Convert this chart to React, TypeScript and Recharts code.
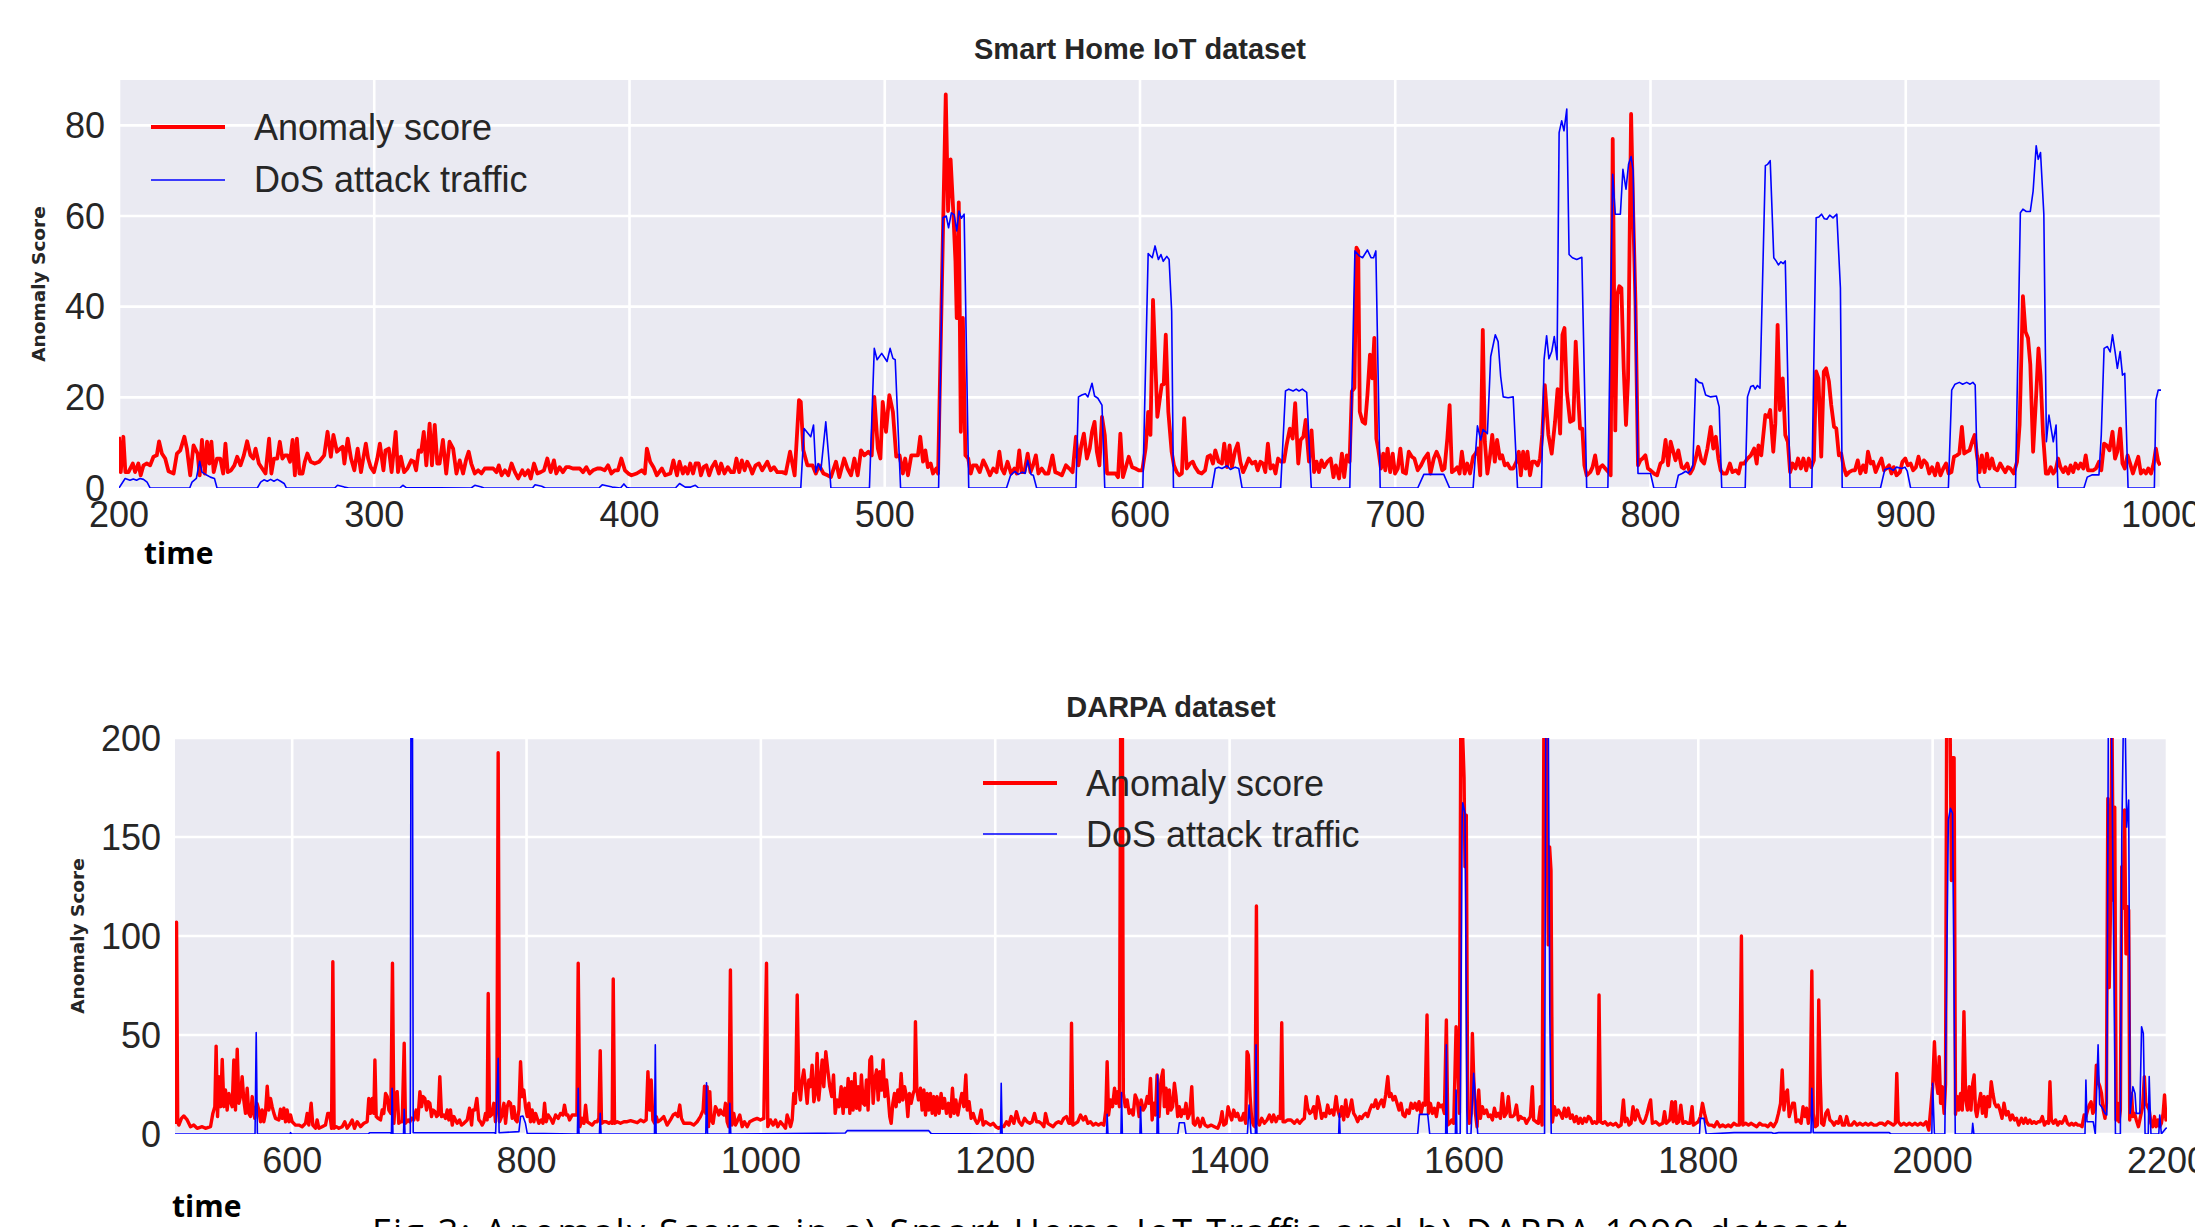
import React from 'react';
import { LineChart, Line, XAxis, YAxis, CartesianGrid } from 'recharts';

type P = [number, number];

// ---------- Smart Home IoT dataset ----------
const iotTicksX = [200, 300, 400, 500, 600, 700, 800, 900, 1000];
const iotTicksY = [0, 20, 40, 60, 80];

const iotAnomaly: P[] = [
  [200, 11.3], [200.7, 3.5], [201.7, 11.3], [202.5, 3.5], [203.7, 3.5], [205.4, 5.4], [206.3, 3.5], [207.6, 5.4], [208.5, 2.8], [209.6, 5.0],
  [210.9, 5.4], [212.2, 5.0], [213.5, 6.9], [214.8, 7.2], [215.7, 10.3], [216.8, 7.6], [218.1, 6.5], [219.4, 3.7], [221.4, 3.2], [222.7, 7.6],
  [224, 8.3], [225.6, 11.3], [226.6, 8.7], [227.9, 2.8], [229.2, 9.4], [230.8, 7.6], [231.6, 2.8], [232.5, 10.6], [233.6, 3.2], [234.5, 10.2],
  [235.4, 5.4], [236.2, 10.2], [237.1, 3.5], [238.4, 6.5], [239.7, 6.5], [240.8, 3.2], [241.7, 9.8], [242.6, 3.5], [243.9, 3.9], [245.2, 5.0],
  [246.3, 6.9], [247.6, 5.0], [248.9, 7.2], [250.2, 10.3], [251.5, 7.2], [252.6, 6.5], [253.5, 8.7], [254.8, 5.4], [256.1, 4.3], [257.4, 3.2],
  [258.8, 10.9], [259.7, 3.2], [260.7, 6.5], [262, 6.5], [263, 10.2], [264, 6.5], [265, 7.2], [266, 7.2], [267, 5.8], [268, 10.6],
  [268.9, 2.8], [269.7, 10.9], [270.7, 3.2], [271.9, 3.2], [272.8, 5.8], [273.8, 7.6], [275.1, 5.8], [276.7, 5.4], [278.4, 5.8], [280.4, 7.2],
  [281.7, 12.4], [283, 6.9], [284, 11.7], [285.4, 8.0], [286.7, 8.7], [287.6, 9.1], [288.3, 5.4], [289.6, 10.9], [290.9, 6.5], [292.2, 3.9],
  [293.5, 8.7], [294.8, 3.5], [295.7, 6.5], [296.7, 9.8], [297.6, 6.5], [298.6, 4.6], [299.9, 3.5], [301.2, 6.5], [302.2, 9.8], [303.6, 3.9],
  [304.4, 8.3], [305.7, 8.7], [306.8, 3.5], [308.4, 12.4], [309.3, 3.5], [310.4, 6.9], [311.7, 3.5], [313, 4.3], [314.5, 6.1], [315.5, 5.8],
  [316.4, 3.9], [317.4, 8.3], [318.4, 8.0], [319.4, 12.4], [320.4, 5.0], [321.7, 14.2], [322.6, 5.0], [323.7, 13.9], [324.7, 5.4], [325.6, 5.4],
  [326.9, 10.6], [328.2, 3.2], [329.5, 10.2], [330.9, 8.7], [332.2, 3.2], [333.5, 6.1], [334.8, 3.2], [336.1, 6.5], [337, 8.0], [338, 5.4],
  [339.4, 3.2], [340.7, 3.9], [342, 3.2], [343.3, 4.3], [345.3, 4.3], [346.6, 4.3], [347.9, 3.5], [348.8, 5.0], [349.9, 2.8], [351.2, 3.9],
  [352.5, 2.8], [353.8, 5.4], [355.1, 3.5], [356.4, 2.1], [358, 3.9], [359, 2.8], [360.3, 3.9], [361.3, 2.1], [362.6, 5.4], [363.9, 3.2],
  [365.2, 3.5], [366.5, 3.9], [367.8, 6.5], [369.1, 3.5], [370.4, 6.1], [371.3, 3.2], [372.6, 4.6], [373.9, 3.5], [375.2, 4.6], [376.5, 4.6],
  [377.8, 4.3], [379.1, 4.3], [380.5, 4.3], [381.8, 3.5], [383.1, 4.6], [384.4, 3.2], [385.7, 3.9], [387.4, 4.3], [388.7, 4.3], [390.3, 3.9],
  [391.6, 5.0], [392.9, 3.2], [394.2, 3.9], [395.5, 3.9], [396.8, 6.5], [398.2, 3.9], [399.5, 3.2], [400.8, 2.8],
  [402.8, 3.2], [404.8, 3.9], [406, 3.2], [406.8, 8.7], [408.1, 5.8], [409.4, 4.6], [410.7, 2.8], [412.7, 4.3], [414, 2.8], [416, 3.2],
  [417.2, 6.1], [418.6, 2.8], [419.6, 5.8], [420.9, 3.2], [421.8, 4.6], [422.8, 3.2], [423.8, 5.4], [424.9, 3.2], [425.9, 5.4], [427.1, 5.4],
  [428, 2.8], [429, 4.6], [430.1, 5.0], [431.2, 2.8], [432.3, 4.6], [433.6, 5.8], [435, 3.2], [435.9, 5.4], [437.2, 3.2], [438.5, 4.6],
  [439.8, 3.5], [440.9, 3.5], [441.9, 6.5], [443, 3.5], [444, 6.1], [445.1, 3.9], [446.1, 5.8], [447.2, 4.6], [448.1, 3.2], [449.4, 5.0],
  [450.7, 5.4], [452, 3.9], [454, 5.8], [455.3, 3.9], [456.6, 4.6], [457.9, 3.5], [459.9, 3.5], [461.2, 3.2], [462.9, 8.0], [464.7, 2.8],
  [466.4, 19.4], [467.1, 19.0], [468.1, 8.3], [469.7, 5.0], [471.7, 5.0], [473, 3.2], [474.3, 5.0], [476, 3.2], [477.6, 2.8], [478.9, 2.4],
  [480.9, 5.8], [482.2, 2.4], [484.1, 6.5], [485.4, 4.3], [486.8, 2.8], [488.1, 6.5], [489.4, 2.8], [490.7, 8.3], [492, 7.2], [493.6, 8.0],
  [494.9, 7.2], [495.9, 20.1], [497.3, 8.7], [498.3, 6.5], [499.2, 19.0], [500.5, 12.4], [501.8, 20.5], [503.2, 16.8], [504.5, 6.9], [505.8, 7.2],
  [507.1, 3.2], [508, 6.5], [509.1, 2.8], [510.4, 7.2], [511.7, 7.2], [513, 7.2], [513.9, 11.3], [515, 5.8], [515.9, 8.3], [516.9, 4.6],
  [518, 5.4], [518.9, 3.2], [520.2, 4.3], [520.9, 3.2], [523.9, 86.8], [524.8, 61.1], [525.8, 72.5], [526.8, 61.5], [527.7, 50], [528.2, 37.5],
  [529, 63], [529.8, 12.4], [530.6, 37.5], [531.6, 7.2], [532.7, 6.5], [533.7, 3.2], [534.6, 5.0], [535.9, 5.0], [537.2, 3.5], [538.6, 6.1],
  [539.9, 4.6], [541.2, 2.8], [542.5, 4.3], [543.8, 3.5], [544.9, 8.0], [545.8, 4.3], [546.8, 3.2], [548.1, 5.8], [549.5, 3.2], [550.8, 4.3],
  [551.7, 3.2], [552.7, 8.3], [553.6, 3.5], [554.7, 3.5], [556, 7.6], [557.1, 3.5], [558.1, 5.0], [559.2, 7.2], [560.2, 3.2], [561.5, 4.3],
  [562.8, 3.2], [564.1, 3.2], [565.7, 7.2], [566.8, 3.5], [568.1, 3.2], [569.4, 2.8], [571, 5.0], [572.3, 4.3], [573.6, 3.5], [574.9, 11.3],
  [575.9, 5.0], [577, 9.4], [578, 12.0], [579.2, 6.5], [580.3, 8.7], [581.2, 12.4], [582.2, 14.6], [583.1, 8.0], [584.1, 5.0], [585.1, 15.7],
  [586.2, 11.7], [587.1, 3.2], [588.4, 3.2], [590.4, 3.2], [591.4, 2.4], [592.3, 12.0], [593.3, 2.4], [594.3, 4.3], [595.6, 6.9], [596.9, 4.6],
  [598.2, 4.3], [599.5, 3.9], [600.9, 3.9], [602.2, 8.7], [603.2, 16.8], [604.1, 11.7], [605.1, 41.5],
  [606.8, 15.7], [608.5, 22.7], [609.3, 22.9], [610.1, 33.8], [611.1, 16.8], [612.4, 8.0], [613.3, 5.0], [614.4, 3.5], [615.4, 2.8], [616.4, 3.2],
  [617.3, 15.4], [618.3, 4.3], [619.6, 5.4], [620.7, 5.8], [621.6, 4.6], [622.9, 3.5], [624.2, 3.2], [625.5, 3.9], [626.5, 6.9], [627.5, 7.2],
  [628.6, 5.4], [629.5, 8.3], [630.8, 5.8], [632.1, 5.4], [633, 9.8], [634.1, 4.6], [635.1, 9.4], [636, 4.6], [637.3, 8.3], [638.3, 9.8],
  [639.3, 5.8], [640.4, 3.5], [641.3, 4.6], [642.6, 6.5], [643.9, 5.4], [645.2, 5.8], [646.1, 3.9], [647.2, 5.8], [648.2, 5.4], [649.1, 3.5],
  [650.1, 9.8], [651.1, 4.3], [652.2, 5.0], [653.1, 3.2], [654.1, 6.5], [655.3, 5.8], [656.4, 5.8], [657.4, 9.4], [658.7, 13.1], [659.8, 10.9],
  [660.8, 18.7], [662, 5.4], [662.9, 10.6], [664, 11.3], [664.9, 15.0], [666.2, 5.8], [667.2, 12.7], [668.2, 3.5], [669.2, 5.8], [670.1, 3.5],
  [671.1, 6.1], [672.1, 4.6], [673.4, 5.8], [674.7, 6.5], [675.8, 2.4], [676.7, 5.0], [678, 2.1], [679.1, 7.6], [680, 2.4], [681, 7.2],
  [682.1, 5.8], [683, 21.3], [684, 22.1], [684.8, 53], [685.5, 52.3], [686.1, 16.8], [687.2, 14.6], [688.2, 14.2], [689.1, 20.5], [690.1, 29.4],
  [691, 24.2], [691.8, 33.1], [692.6, 10.9], [693.3, 8.7], [694.4, 4.3], [695.3, 7.6], [696.1, 3.9], [697, 8.7], [698, 3.5], [699, 7.6],
  [699.9, 3.2], [701, 4.3], [702, 8.7], [703, 3.5], [704.2, 3.2], [705.3, 8.0], [706.5, 6.9], [707.5, 6.5], [708.8, 3.9], [710.1, 5.0],
  [711.4, 6.5], [712.8, 7.6], [713.8, 3.2], [715.1, 6.5], [716.2, 8.0], [717.3, 6.5], [718.4, 3.9], [719.3, 4.3], [720.4, 10.9], [721.3, 18.3],
  [722.2, 3.5], [723.2, 3.9], [724.3, 4.6], [725.2, 3.2], [726.1, 8.0], [727.2, 3.2], [728.2, 5.4], [729.3, 3.2], [730.5, 6.9], [731.5, 7.6],
  [732.4, 8.7], [733.3, 2.8], [734.3, 34.9], [735.1, 10.2], [736.1, 3.2], [737, 6.5], [738, 11.7], [739, 5.8], [739.9, 10.6], [741, 6.5],
  [741.9, 7.2], [742.9, 5.0], [744, 5.4], [745, 4.3], [746.2, 4.3], [747.5, 5.8], [748.4, 8.0], [749.2, 2.8], [750.1, 8.0], [751.1, 4.3],
  [751.8, 8.0], [752.8, 2.8], [753.7, 5.8], [754.7, 5.8], [755.8, 5.0], [756.7, 6.5], [757.6, 11.7], [758.6, 22.7], [760, 11.7], [761.3, 7.6],
  [762.6, 14.6], [763.6, 21.8], [764.6, 12], [765.5, 33.8], [766.3, 35.3], [767.2, 21.4], [768.5, 14.6], [769.8, 15.0], [770.7, 32.3], [771.8, 19.0],
  [772.4, 13.1], [773.3, 13.1], [774.1, 5.0], [775, 2.8], [776.4, 3.5], [777.3, 4.6], [778.3, 7.2], [779.4, 3.2], [780.3, 4.6], [781.2, 5.0],
  [782.3, 4.3], [783.6, 3.5], [784.4, 2.8], [785.2, 77], [786.2, 12.7], [787, 42.7], [787.8, 44.5], [788.6, 44.1], [789.5, 26.4], [790.4, 13.9],
  [791.2, 24.2], [792.4, 82.5], [793.2, 61.1], [794.1, 41.2], [795.1, 5.0], [796, 6.1], [796.9, 6.5], [798, 7.2], [799, 4.3], [800, 3.9],
  [801.3, 3.2], [802.6, 2.8], [803.9, 5.4], [804.8, 5.8], [805.9, 10.6], [806.9, 5.0], [807.9, 10.2],
  [809.8, 6.1], [810.9, 8.3], [812.2, 4.6], [813.1, 4.3], [814.4, 5.4], [815.5, 3.2], [816.6, 4.3], [817.7, 6.5], [818.7, 9.1], [819.9, 6.1],
  [821, 5.4], [822.3, 8.7], [823.6, 13.5], [824.6, 8.7], [825.6, 11.3], [826.6, 6.5], [827.5, 3.9], [828.4, 3.2], [829.8, 3.2], [831.1, 5.4],
  [832.1, 3.5], [833.4, 3.9], [834.5, 3.2], [835.4, 5.4], [836.7, 5.4], [838, 6.5], [839.3, 7.2], [840.6, 8.7], [841.6, 5.4], [842.3, 9.4],
  [843.4, 7.2], [845, 16.1], [846.1, 15.7], [846.9, 17.2], [848.1, 8.0], [848.9, 14.2], [849.8, 36], [850.7, 17.2], [851.8, 24.2], [852.8, 11.7],
  [853.8, 10.2], [854.7, 3.5], [855.7, 5.4], [856.8, 4.3], [857.8, 6.5], [858.9, 4.3], [859.9, 6.5], [861, 3.9], [862, 6.5], [863, 4.6],
  [864, 6.1], [864.9, 25.7], [865.8, 24.2], [866.9, 6.9], [867.9, 25.7], [868.8, 26.4], [869.9, 23.5], [870.8, 18.3], [871.9, 13.5], [872.8, 13.1],
  [873.8, 7.2], [874.7, 7.6], [875.7, 4.6], [876.7, 2.8], [877.8, 3.5], [879.1, 3.9], [880.1, 3.9], [881.2, 6.1], [882.2, 3.2], [883.3, 5.0],
  [884.3, 3.5], [885.2, 8.0], [886.3, 5.4], [887.2, 5.8], [888.2, 3.5], [889.3, 5.0], [890.5, 6.5], [891.5, 3.9], [892.4, 4.3], [893.5, 5.0],
  [894.4, 3.2], [895.3, 4.6], [896.4, 2.8], [897.7, 3.5], [898.7, 5.8], [899.8, 6.5], [900.8, 5.0], [901.9, 5.4], [902.9, 3.9], [904, 4.6],
  [905, 6.9], [906.1, 4.6], [907.1, 6.1], [908.2, 5.4], [909.2, 3.2], [910.3, 4.6], [911.5, 2.8], [912.5, 5.4], [913.6, 2.8], [914.7, 4.3],
  [915.8, 5.4], [916.8, 3.2], [917.9, 3.5], [918.9, 6.9], [920, 7.2], [921, 7.6], [922, 13.5], [922.9, 7.6], [923.9, 8.0], [925, 8.3],
  [926, 10.2], [927, 11.7], [927.9, 7.2], [928.9, 3.5], [929.8, 7.2], [930.9, 3.5], [931.8, 7.6], [932.8, 4.3], [933.8, 6.5], [934.8, 4.3],
  [935.9, 3.9], [937, 5.4], [938.1, 4.3], [939, 3.5], [940, 4.6], [941, 4.3], [942.3, 3.2], [943.6, 5.8], [944.6, 13.9], [945.9, 42.3],
  [946.9, 34.5], [947.9, 33.1], [948.8, 27.2], [949.9, 8.0], [950.9, 18.3], [952, 30.8], [952.8, 24.9], [953.8, 11.7], [954.9, 3.2], [955.8, 3.2],
  [956.8, 4.6], [957.8, 3.2], [958.7, 3.9], [959.7, 6.5], [960.6, 4.6], [961.7, 3.5], [962.6, 4.6], [963.7, 3.2], [964.6, 5.0], [965.6, 3.5],
  [966.5, 5.4], [967.6, 4.3], [968.5, 5.4], [969.6, 4.3], [970.5, 7.2], [971.4, 3.9], [972.5, 3.9], [973.5, 3.9], [974.5, 4.3], [975.7, 5.8],
  [976.6, 3.9], [977.7, 9.8], [978.7, 9.4], [979.8, 8.3], [981, 12.4], [982, 6.5], [982.9, 8.0], [984, 13.1], [984.9, 5.4], [985.8, 4.3],
  [986.9, 7.2], [987.9, 5.4], [989, 3.2], [990, 5.0], [991.1, 6.9], [992.1, 3.2], [993.2, 3.9], [994.1, 3.2], [995, 4.3], [996.1, 3.2],
  [997.1, 5.4], [998, 8.7], [998.9, 5.8], [999.7, 5.0],
];

const iotDos: P[] = [
  [200, 0], [202.4, 2.1], [204.3, 1.7], [205.6, 2.0], [206.9, 1.7], [208.2, 2.1], [209.6, 1.9], [211, 1.3], [212.2, 0], [227.7, 0],
  [228.6, 1.3], [230.3, 2.1], [231.6, 5.9], [232.5, 3.5], [234.5, 2.8], [235.8, 2.4], [237.4, 2.1], [238.4, 0], [254.2, 0], [255.5, 1.3],
  [256.8, 1.8], [258.1, 1.5], [259.4, 1.9], [260.7, 1.5], [262, 1.9], [263.3, 1.5], [264.7, 1.0], [265.6, 0], [284.5, 0], [285.6, 0.6],
  [288.3, 0.2], [290, 0], [310, 0], [311.2, 0.6], [312.5, 0.1], [338, 0], [339.4, 0.6], [342, 0.2], [343, 0], [362, 0],
  [363, 0.7], [365.6, 0.4], [367, 0], [388, 0], [389.3, 0.7], [393.2, 0.2], [396.5, 0], [397.8, 0.9], [399, 0.1], [400.2, 0],
  [418, 0], [419.6, 1.0], [421.8, 0.2], [424, 0.2], [425.8, 0.6], [427.1, 0], [467.1, 0], [468.4, 13.1], [471, 11.3], [472.1, 13.9],
  [473, 3.5], [473.9, 5.4], [475, 4.0], [476.9, 14.6], [478.2, 5.8], [478.9, 0], [494, 0], [495.9, 30.8], [497, 28.3], [498.8, 29.7],
  [500.9, 27.9], [502.1, 30.8], [503.2, 28.6], [504.1, 28.3], [506.2, 0], [521.1, 0], [522.8, 59.6], [524.1, 60], [525, 57.4], [526.1, 60.7],
  [527.2, 60.3], [528.2, 56.7], [529.1, 61.1], [530, 59.5], [531.1, 60.4], [532.9, 0], [547.7, 0], [549.3, 2.8], [551, 3.7], [552.3, 3.0],
  [553.9, 3.5], [555, 3.2], [556, 6.1], [557.3, 3.0], [558.2, 2.8], [559.5, 0], [574.9, 0], [575.9, 20.1], [577.2, 20.5], [578.6, 20.8],
  [579.6, 20.1], [581.2, 23.1], [582.2, 20.3], [583.5, 19.8], [585.1, 18.3], [586.2, 0], [601.1, 0], [603.2, 51.7], [604.8, 50.8], [605.9, 53.4],
  [607.2, 50.4], [608.2, 51.5], [609.1, 50], [610.5, 51.1], [611.4, 50.4], [612.4, 39], [613.1, 0], [628.2, 0], [629.5, 4.3], [630.8, 4.6],
  [632.1, 4.3], [634.1, 4.9], [635.4, 4.1], [637.3, 4.6], [638.7, 4.3], [640, 0], [655.1, 0], [657, 21.4], [658.3, 21.8], [660, 21.4],
  [661.2, 21.8], [662.3, 21.4], [663.6, 21.8], [665.3, 21.1], [667.1, 0], [682.2, 0], [684.2, 52.3], [685.9, 51.2], [687.2, 50.8], [689.1, 52.5],
  [690.5, 50.8], [691.5, 50.8], [692.4, 52.3], [694.1, 0], [708.8, 0], [711.2, 3.0], [713.4, 3.0], [719, 3.0], [721.3, 0], [730.5, 0],
  [732.2, 13.7], [733.5, 10.6], [734.4, 12.9], [736.1, 12.0], [737.4, 29], [739.2, 33.8], [740.3, 32.3], [741.3, 24.6], [742.3, 20.1], [744.2, 19.9],
  [746.2, 20.1], [747.9, 0], [757.3, 0], [758.3, 28.3], [759.3, 33.6], [760.2, 28.5], [761.3, 30.1], [762.3, 33.4], [763.4, 28.3], [764.2, 78.4],
  [765.2, 81], [766.1, 78.8], [767.2, 83.6], [768.1, 51.5], [769.4, 50.8], [771.1, 50.4], [773.1, 50.9], [775, 0], [783.3, 0], [785.2, 69.2],
  [786.2, 60.4], [788.2, 60.4], [789.2, 70.3], [790.4, 65.9], [791.4, 71.4], [792.4, 73.1], [793.2, 70], [795.1, 3.2], [800, 3.2], [801.3, 0],
  [809.8, 0], [810.9, 2.8], [812.4, 3.2], [813.8, 3.7], [814.8, 3.3], [815.7, 3.9], [816.6, 5.0], [817.7, 24.1], [819, 23.3], [820.3, 23.1],
  [821.6, 20.5], [823.6, 20.1], [825.8, 20.3], [826.9, 17.9], [827.9, 0], [837.1, 0], [838, 20.1], [839.3, 22.4], [840.3, 22.6], [841, 21.8],
  [841.9, 22.6], [842.9, 22.0], [843.9, 45.6], [845, 71.1], [845.9, 71.4], [846.9, 72.2], [848.3, 50.8], [849.2, 50.1], [850.1, 49.2], [851.1, 49.9],
  [852, 49.5], [852.8, 50.1], [854.7, 0], [863.2, 0], [864.9, 59.6], [866, 59.8], [867, 60.4], [868.1, 59.4], [869.1, 59.3], [870.2, 60.2],
  [871.5, 59.6], [873, 60.4], [874.4, 44.1], [875.1, 0], [890.1, 0], [891.8, 4.1], [893.8, 4.4], [895.1, 3.9], [896.4, 4.6], [898.4, 4.3],
  [899.7, 4.6], [900.6, 3.7], [901.9, 0], [916.7, 0], [918, 21.6], [919.3, 22.9], [921, 23.3], [922.3, 22.9], [923.9, 23.3], [925.2, 22.9],
  [926.3, 23.3], [927.2, 22.7], [928.1, 1.7], [929.2, 0], [943, 0], [944.9, 60.7], [945.9, 61.5], [947.2, 61.0], [948.8, 61.0], [949.9, 65.5],
  [951.1, 75.5], [951.9, 72.5], [952.8, 74], [954.1, 60.4], [955.1, 10.2], [956.1, 16.1], [957.8, 10.2], [958.9, 13.9], [959.6, 0], [969.8, 0],
  [971.1, 2.4], [973.1, 2.9], [975.7, 2.9], [976.6, 11.7], [977.7, 30.8], [979, 31.2], [980.1, 30], [981, 33.8], [982, 30.1], [982.9, 26.4],
  [984, 30.1], [984.9, 24.9], [985.8, 25.3], [987.1, 0], [997.4, 0], [998, 19.4], [998.9, 21.6], [1000, 21.6],
];

// ---------- DARPA dataset ----------
const darpaTicksX = [600, 800, 1000, 1200, 1400, 1600, 1800, 2000, 2200];
const darpaTicksY = [0, 50, 100, 150, 200];

const darpaAnomaly: P[] = [
  [500, 5], [501.3, 107], [502.3, 6], [503.3, 4.5], [505.5, 7.9], [507.5, 9.1], [510.4, 7.1], [513.2, 3.7], [516, 4.5], [518.9, 2.9],
  [523.2, 3.7], [526, 2.9], [530.3, 3.7], [532.3, 10.4], [534, 13.8], [535.1, 44.4], [536.3, 8.8], [537.5, 29], [538.9, 13.8], [540.3, 37.7],
  [541.7, 13.8], [543.1, 22.2], [544.5, 12.1], [546, 20.5], [547.4, 16.3], [548.8, 13.8], [550.2, 37.4], [551.6, 12.1], [553.1, 42.8], [554.5, 15.5],
  [555.9, 18.9], [557.3, 29], [558.7, 17.2], [560.2, 10.4], [561.6, 23.1], [563, 10.4], [564.4, 8.8], [565.9, 18.9], [567.3, 10.4], [568.1, 7.9],
  [570, 15.5], [571.5, 12.1], [573, 6.2], [574.4, 12.1], [575.8, 6.2], [577.2, 10.4], [578.7, 24.2], [580.1, 12.1], [581.5, 18], [582.9, 13.8],
  [584.4, 10.4], [585.8, 7.9], [588.6, 7.1], [590, 12.5], [591.5, 7.9], [592.9, 13], [594.3, 6.2], [595.7, 12.1], [597.2, 6.2], [598.6, 9.6],
  [600, 6.2], [602.8, 4.5], [605.7, 4.5], [608.5, 3.7], [611.4, 5.4], [612.8, 10.4], [614.2, 4.5], [616.2, 15.5], [617.6, 4.5], [619.9, 2.9],
  [621.3, 7.1], [622.8, 2.9], [625.6, 3.7], [628.4, 4.5], [630.4, 10.4], [632.1, 10.4], [633.6, 2.9], [634.7, 87], [635.8, 2.9], [637.6, 3.7],
  [639.8, 2.9], [642.7, 3.7], [644.9, 6.2], [646.9, 2.9], [648.9, 4.5], [651.2, 7.1], [653.2, 2.9], [655.5, 6.2], [658.3, 3.7], [661.2, 5.4],
  [664, 6.2], [665.4, 18], [666.9, 10.4], [668.3, 18], [669.7, 10.4], [670.6, 37.4], [671.7, 8.8], [673.4, 7.9], [675.4, 7.1], [676.8, 12.1],
  [678.2, 10.4], [679.7, 20.5], [681.1, 18.9], [682.5, 12.1], [684.2, 10.4], [685.6, 86.2], [686.8, 5.4], [688.2, 18.9], [689.6, 21.4], [691, 5.4],
  [692.5, 6.2], [693.9, 6.2], [695.6, 45.8], [696.7, 5.4], [699, 7.1], [700.4, 6.2], [701.8, 8], [703.8, 7.1], [705.8, 12.1], [707.3, 7.1],
  [709, 21.4], [710.4, 13.8], [711.8, 18.9], [713.2, 18], [714.7, 12.1], [716.1, 16.3], [717.5, 15.5], [718.9, 8.8], [720.3, 12.1], [721.8, 11.3],
  [723.2, 8.8], [724.6, 9.6], [726, 29], [727.5, 8.8], [729.4, 9.6], [730.9, 7.9], [732.3, 12.1], [733.7, 7.1], [735.1, 12.1], [736.6, 4.5],
  [738, 8.8], [739.4, 7.1], [740.8, 5.4], [742.8, 7.1], [744.5, 4.5], [746.5, 5.4], [749.4, 7.1], [751.3, 13], [753.1, 4.5], [754.2, 12.1],
  [755.9, 12.1], [757.6, 18], [759.3, 7.1], [760.7, 6.2], [762.2, 4.5], [763.6, 6.2], [765, 10.4], [766.4, 7.1], [767.3, 71], [768.4, 8.8],
  [770.1, 9.6], [772.1, 15.5], [773.5, 6.2], [774.7, 14.6], [775.8, 192.6], [777, 6.2], [778.7, 8.8], [780.7, 15.5], [782.1, 5.4], [783.5, 13.8],
  [784.9, 16.3], [786.3, 15.5], [787.8, 7.9], [789.2, 13.8], [790.6, 7.1], [792, 6.2], [793.5, 12.1], [794.9, 36.5], [796.3, 18.9], [797.7, 22.2],
  [799.1, 13.8], [800.6, 8.8], [802, 15.5], [803.4, 6.2], [804.8, 12.1], [806.3, 6.2], [807.7, 10.4], [809.1, 7.9], [810.5, 5.4], [812.5, 7.1],
  [814, 5.4], [815.4, 15.5], [816.8, 6.2], [818.5, 9.6], [820.5, 7.9], [822.5, 5.4], [824.8, 9.6], [827.1, 7.9], [829, 10.4], [831, 9.6],
  [832.4, 14.6], [833.9, 9.6], [835.3, 9.6], [836.7, 7.1], [839, 9.6], [841.3, 9.6], [843, 9.6], [844.1, 86.2], [845.5, 3.7], [847.5, 7.9],
  [849, 5.4], [850.4, 14.6], [851.8, 6.2], [853.8, 5.4], [856, 4.5], [858.3, 6.2], [860.3, 6.2], [861.7, 7.9], [862.9, 42.1], [864, 5.4],
  [866, 6.2], [868, 6.2], [870.3, 5.4], [872, 6.2], [873.1, 5.4], [874, 78.3], [875.1, 5.4], [877.4, 6.2], [880.2, 5.4], [883.1, 6.2],
  [885.9, 6.2], [888.8, 6.7], [891.6, 6.2], [894.5, 5.7], [897.3, 7.1], [900.1, 6.2], [902.1, 7.1], [903.6, 31.5], [905, 12.1], [906.4, 27.3],
  [907.8, 7.1], [909.3, 5.4], [910.7, 8.8], [912.1, 6.2], [914.4, 7.1], [917.1, 8.8], [920, 4.5], [922.8, 7.1], [925.1, 9.6], [927.1, 10.4],
  [929.1, 8.8], [930.8, 14.6], [932.2, 7.9], [934.2, 5.4], [937.1, 5.4], [939.9, 5.4], [942.7, 4.5], [945.6, 6.2], [948.4, 8.8], [950.7, 12.1],
  [951.9, 24.2], [953, 10.4], [954.1, 23.9], [955.3, 3.7], [956.4, 21.4], [957.5, 7.1], [959.2, 5.4], [961.2, 13.8], [962.7, 12.1], [964.1, 9.6],
  [965.5, 12.1], [966.9, 10.4], [968.4, 9.6], [969.8, 15.5], [971.2, 6.2], [972.6, 3.7], [974, 82.8], [975.2, 4.5], [976.9, 10.4], [978.3, 4.5],
  [979.7, 6.2], [982, 9.6], [984, 3.7], [986, 6.2], [988.3, 3.7], [990.5, 6.2], [993.4, 7.1], [996.8, 7.9], [999.6, 7.1], [1002.5, 7.9],
  [1004.8, 86.2], [1005.9, 3.7], [1008.2, 7.1], [1010.5, 4.5], [1012.5, 7.1], [1014.4, 3.7], [1016.7, 6.2], [1019, 4.5], [1021, 2.9], [1022.4, 9.6],
  [1023.8, 7.1], [1025.3, 3.7], [1026.7, 7.1], [1028.1, 20.5], [1029.5, 15.5], [1031, 70.2], [1032.4, 23.1], [1033.8, 17.2], [1035.2, 27.3], [1036.6, 32.3],
  [1038.1, 23.9], [1039.5, 15.5], [1040.9, 27.3], [1042.3, 23.9], [1043.7, 34.8], [1045.2, 16.3], [1046.6, 20.5], [1048, 40.7], [1049.4, 17.2], [1050.9, 27.3],
  [1052.3, 37.4], [1053.7, 23.9], [1055.4, 41.6], [1057.1, 32.3], [1058.8, 23.9], [1060.5, 18.9], [1062, 29.8], [1063.4, 10.4], [1065.1, 17.2], [1066.8, 13.8],
  [1068.5, 23.9], [1070.2, 10.4], [1071.6, 23.1], [1073.1, 13.8], [1074.5, 28.1], [1075.9, 10.4], [1077.3, 26.4], [1078.7, 12.1], [1080.2, 30.6], [1081.6, 13],
  [1083, 23.9], [1084.4, 12.1], [1085.8, 29.8], [1087.3, 15.5], [1088.7, 14.6], [1090.1, 27.3], [1091.5, 12.1], [1093, 37.4], [1094.4, 39], [1095.8, 15.5],
  [1097.2, 27.3], [1098.7, 32.3], [1100.1, 17.2], [1101.5, 31.5], [1102.9, 22.2], [1104.3, 37.4], [1105.8, 18.9], [1107.2, 27.3], [1108.6, 18.9], [1110, 8.8],
  [1111.2, 5.4], [1112.6, 15.5], [1114, 20.5], [1115.4, 13.8], [1116.9, 22.2], [1118.3, 16.3], [1119.7, 30.6], [1121.1, 17.2], [1122.6, 23.9], [1124, 19.7],
  [1125.4, 8.8], [1126.8, 20.5], [1128.2, 15.5], [1130, 20.5], [1131.1, 22.2], [1131.9, 56.7], [1133.1, 22.2], [1134.5, 17.2], [1136.2, 23.1], [1137.6, 12.1],
  [1139.1, 22.2], [1140.5, 9.6], [1141.9, 20.5], [1143.3, 12.1], [1144.7, 20.5], [1146.2, 10.4], [1147.6, 18.9], [1149, 9.6], [1150.4, 18.9], [1152.1, 10.4],
  [1153.8, 20.5], [1155.3, 13], [1156.7, 18], [1158.4, 10.4], [1160.1, 15.5], [1161.8, 8.8], [1163.5, 23.1], [1164.9, 10.4], [1166.4, 17.2], [1168.1, 9.6],
  [1169.8, 15.5], [1171.5, 20.5], [1173.2, 13.8], [1174.9, 29.8], [1176.1, 12.1], [1177.7, 16.3], [1179.4, 7.9], [1181.2, 10.4], [1182.9, 7.1], [1184.6, 5.4],
  [1186.3, 7.1], [1188, 12.1], [1189.7, 4.5], [1191.7, 6.2], [1193.7, 5.4], [1195.9, 4.5], [1198.2, 5.4], [1200.5, 3.7], [1202.8, 2.9], [1205.1, 3.7],
  [1207.3, 3.7], [1209.6, 6.2], [1211.6, 4.5], [1213.6, 8.8], [1215.9, 5.4], [1218.1, 11.3], [1220.4, 6.2], [1222.7, 4.5], [1225, 7.9], [1227.2, 6.2],
  [1229.5, 5.4], [1231.5, 6.2], [1233.5, 10.4], [1235.2, 6.2], [1237.2, 6.2], [1239.2, 5.4], [1241.5, 3.7], [1242.9, 10.4], [1244.9, 5.4], [1247.1, 4.5],
  [1249.4, 3.7], [1251.7, 5.4], [1254, 6.2], [1256.3, 5.4], [1258.5, 7.9], [1260.8, 8.8], [1262.8, 5.4], [1264.2, 5.4], [1265.1, 55.9], [1266.2, 4.5],
  [1268.5, 5.4], [1270.5, 6.2], [1272.8, 9.6], [1275.1, 7.1], [1277, 8.8], [1279.1, 5.4], [1281.3, 6.2], [1283.6, 4.5], [1285.8, 5.4], [1288.1, 4.5],
  [1290.4, 5.4], [1292.7, 4.5], [1294.4, 12.1], [1295.5, 36.5], [1296.7, 9.6], [1298.4, 17.2], [1300.1, 13.8], [1301.8, 23.1], [1303.2, 15.5], [1304.6, 21.4],
  [1306, 13.8], [1307.2, 240], [1308.4, 240], [1309.3, 20.5], [1311, 13.8], [1312.6, 17.2], [1314.3, 10.4], [1316, 12.1], [1317.7, 9.6], [1319.4, 19.7],
  [1321.1, 17.2], [1322.8, 8.8], [1324.5, 17.2], [1326.3, 12.1], [1328, 13.8], [1329.7, 18.9], [1331.1, 15.5], [1332.5, 28.1], [1333.9, 7.1], [1335.4, 15.5],
  [1336.8, 9.6], [1338.1, 29.8], [1339.8, 8.8], [1341.5, 27.3], [1343.2, 32.3], [1344.3, 13.8], [1345.8, 23.1], [1347.2, 10.4], [1348.6, 22.2], [1350, 12.1],
  [1351.4, 13.8], [1352.9, 25.6], [1354.3, 18.9], [1355.7, 8.8], [1357.1, 13.8], [1358.6, 8.8], [1360, 12.1], [1361.4, 10.4], [1362.8, 15.5], [1364.3, 7.9],
  [1366, 10.4], [1367.7, 23.9], [1369.1, 5.4], [1370.5, 4.5], [1372.8, 7.9], [1374.8, 3.7], [1377.1, 7.9], [1379, 4.5], [1381.3, 3.7], [1384.2, 4.5],
  [1387, 3.7], [1389.9, 2.9], [1392.1, 6.2], [1393.6, 11.3], [1395, 4.5], [1397, 5.4], [1398.7, 13.8], [1400.1, 10.4], [1401.8, 7.1], [1403.5, 12.1],
  [1405.2, 8.8], [1406.9, 10.4], [1408.6, 7.1], [1410.3, 7.1], [1412, 10.4], [1413.8, 5.4], [1414.9, 41.6], [1416, 39.9], [1417.5, 18.9], [1418.9, 7.1],
  [1420.3, 4.5], [1421.7, 3.7], [1422.9, 115.2], [1424, 6.2], [1425.4, 4.5], [1427.4, 7.9], [1429.7, 5.4], [1432, 7.1], [1434, 9.6], [1436, 6.2],
  [1437.6, 9.6], [1439.6, 6.2], [1441.6, 8.8], [1443.3, 7.9], [1444.5, 56.2], [1445.6, 6.2], [1447.3, 6.2], [1449.6, 7.1], [1452.4, 7.1], [1455.3, 5.4],
  [1457.6, 7.1], [1459.8, 5.4], [1462.1, 7.1], [1463.8, 7.9], [1465.2, 18.9], [1466.7, 13], [1468.4, 10.4], [1470.1, 11.3], [1471.8, 13.8], [1473.5, 7.9],
  [1475.2, 18.9], [1476.9, 13.8], [1478.6, 7.9], [1480.3, 10.4], [1482, 8.8], [1483.7, 14.6], [1485.4, 10.4], [1487.2, 12.1], [1488.9, 9.6], [1490.9, 18.9],
  [1492.3, 12.1], [1494, 8.8], [1495.7, 13.8], [1497.4, 7.1], [1499.1, 17.2], [1500.8, 8.8], [1502.5, 12.1], [1504.2, 17.2], [1505.9, 10.4], [1507.6, 8.8],
  [1509.3, 6.2], [1511.1, 8.8], [1512.8, 7.9], [1514.5, 9.6], [1516.2, 10.4], [1517.9, 8.8], [1519.6, 12.1], [1521.3, 14.6], [1523, 13.8], [1524.7, 17.2],
  [1526.4, 13], [1528.1, 15.5], [1529.8, 17.2], [1531.5, 13.8], [1533.2, 19.7], [1535, 29], [1536.4, 18.9], [1537.8, 20.5], [1539.5, 17.2], [1541.2, 18.9],
  [1542.9, 15.5], [1544.6, 12.1], [1546.3, 15.5], [1548, 9.6], [1549.7, 8.8], [1551.4, 12.1], [1553.2, 10.4], [1554.9, 15.5], [1556.6, 13], [1558.3, 15.5],
  [1560, 12.1], [1561.7, 16.3], [1563.4, 10.4], [1565.1, 15.5], [1566.8, 14.6], [1568.5, 60.1], [1569.7, 10.4], [1571.4, 15.5], [1573.1, 10.4], [1574.8, 13],
  [1576.5, 8.8], [1578.2, 15.5], [1579.9, 13.8], [1581.6, 14.6], [1583.3, 10.4], [1585, 57.6], [1586.2, 4.5], [1587.9, 5.4], [1589.6, 7.1], [1591.3, 5.4],
  [1593.3, 54.2], [1594.7, 37.4], [1596.1, 10.4], [1597.5, 240], [1599, 200], [1600.1, 180], [1600.9, 135], [1602, 161], [1603.2, 12.1], [1604.6, 5.4],
  [1606.1, 10.4], [1607.2, 50.8], [1608.3, 29], [1609.8, 10.4], [1611.2, 3.7], [1612.6, 22.2], [1614, 7.9], [1615.7, 13.8], [1617.4, 10.4], [1619.2, 12.1],
  [1620.9, 8.8], [1622.6, 9.6], [1624.3, 7.1], [1626, 13], [1627.7, 8.8], [1629.4, 10.4], [1631.1, 7.9], [1632.8, 20.5], [1634.5, 8.8], [1636.2, 10.4],
  [1637.9, 18.9], [1639.6, 8.8], [1641.3, 8.8], [1643, 9.6], [1644.8, 14.6], [1646.5, 7.1], [1648.2, 8.8], [1649.9, 7.9], [1651.6, 7.9], [1653.3, 5.4],
  [1655, 7.1], [1656.7, 8.8], [1658.4, 23.9], [1659.5, 7.1], [1661.5, 6.2], [1663.5, 5.4], [1665.2, 13.8], [1666.7, 4.5], [1668.3, 215], [1670.2, 215],
  [1672, 95.5], [1673.1, 145], [1674.3, 133], [1675.5, 6], [1677.2, 13.8], [1678.9, 9.6], [1680.6, 12.1], [1682.3, 10.4], [1684, 7.9], [1685.7, 13],
  [1687.4, 8.8], [1689.1, 13], [1690.8, 7.9], [1692.5, 9.6], [1694.3, 6.2], [1696, 8.8], [1697.7, 5.4], [1699.4, 7.9], [1701.1, 5.4], [1702.8, 7.9],
  [1704.5, 6.2], [1706.2, 8.8], [1707.9, 7.9], [1709.6, 5.4], [1711.3, 6.2], [1713.1, 5.4], [1714.2, 6.2], [1715.3, 70.2], [1716.5, 6.2], [1718.5, 5.4],
  [1720.4, 6.2], [1722.7, 4.5], [1725, 5.4], [1727.3, 4.5], [1729.5, 5.4], [1731.8, 3.7], [1734.1, 4.5], [1736.1, 17.2], [1737.5, 6.2], [1739.2, 7.9],
  [1740.9, 4.5], [1742.6, 5.4], [1744.3, 13.8], [1746, 7.1], [1747.8, 12.1], [1749.5, 8.8], [1751.2, 6.2], [1752.9, 5.4], [1754.6, 7.1], [1756.3, 10.4],
  [1758, 14.6], [1759.3, 17.2], [1760.8, 5.4], [1763.7, 6.2], [1766.7, 4.5], [1769.7, 5.4], [1771.2, 11.3], [1772.7, 5.4], [1775.6, 7.1], [1777.4, 16.3],
  [1778.6, 6.2], [1780.4, 16.3], [1781.6, 5.4], [1783.4, 6.2], [1785.1, 14.6], [1786.9, 5.4], [1789, 6.2], [1791.1, 5.4], [1792.9, 5.4], [1794.7, 13.8],
  [1795.8, 4.5], [1797.9, 5.4], [1800, 6.2], [1801.8, 8.8], [1803.6, 15.5], [1805.3, 10.4], [1807.1, 6.2], [1808.9, 4.5], [1811.3, 4.5], [1813.7, 3.7],
  [1816, 6.2], [1818.4, 3.7], [1820.8, 4.5], [1823.2, 3.7], [1825.6, 4.5], [1827.9, 3.7], [1830.3, 5.4], [1832.7, 4.5], [1835.1, 4.5], [1836.8, 100],
  [1838, 4.5], [1840.4, 5.4], [1842.8, 4.5], [1845.2, 5.4], [1847.5, 4.5], [1849.9, 3.7], [1852.3, 5.4], [1854.7, 4.5], [1857.1, 4.5], [1859.4, 3.7],
  [1861.8, 5.4], [1864.2, 3.7], [1866.6, 6.2], [1868.4, 10.4], [1870.2, 15.5], [1871.6, 32.3], [1873.1, 12.1], [1874.6, 20.5], [1876.1, 22.2], [1877.6, 8.8],
  [1879, 12.1], [1880.5, 15.5], [1882, 15.5], [1883.5, 6.2], [1885.6, 7.1], [1887.7, 5.4], [1889.4, 13.8], [1890.9, 8.8], [1892.4, 13], [1893.9, 5.4],
  [1895.4, 12.1], [1896.9, 82.3], [1898.1, 10.4], [1899.9, 3.7], [1901.6, 4.5], [1902.8, 67.7], [1904, 29], [1905.2, 5.4], [1907, 4.5], [1908.8, 10.4],
  [1910.5, 12.1], [1912.3, 7.1], [1914.1, 6.2], [1915.9, 4.5], [1917.7, 6.2], [1919.5, 5.4], [1921.2, 8.8], [1923, 4.5], [1924.8, 4.5], [1926.6, 8.8],
  [1928.4, 4.5], [1930.8, 4.5], [1933.1, 6.2], [1935.5, 4.5], [1937.9, 5.4], [1940.3, 4.5], [1942.6, 5.4], [1945, 4.5], [1947.4, 5.4], [1949.8, 4.5],
  [1952.2, 4.5], [1954.5, 5.4], [1956.9, 5.4], [1959.3, 4.5], [1961.7, 6.2], [1964, 5.4], [1966.4, 4.5], [1968.2, 5.4], [1969.4, 30.6], [1970.6, 6.2],
  [1973, 4.5], [1975.3, 5.4], [1977.7, 4.5], [1980.1, 5.4], [1982.5, 4.5], [1984.8, 5.4], [1987.2, 4.5], [1989.6, 5.4], [1992, 4.5], [1994.4, 6.2],
  [1996.7, 2], [1998.5, 13.8], [2000, 23.9], [2001.5, 46.6], [2003, 27.3], [2004.5, 20.5], [2005.6, 39], [2006.8, 15.5], [2008, 23.9], [2009.8, 10.4],
  [2011, 25.3], [2012, 220], [2013.5, 230], [2015, 200], [2016, 128], [2017, 190], [2018.3, 190], [2019.5, 10], [2021.1, 18.9], [2022.3, 12.1],
  [2023.8, 20.5], [2025.3, 12.1], [2026.7, 61.8], [2028.2, 17.2], [2029.7, 12.1], [2031.2, 23.9], [2032.7, 12.1], [2034.2, 25.6], [2035.4, 29.8], [2036.6, 12.1],
  [2037.7, 8.8], [2039.5, 15.5], [2041, 20.5], [2042.5, 10.4], [2044, 18.9], [2045.5, 8.8], [2047, 18.9], [2048.5, 13.8], [2050, 26.4], [2051.4, 20.5],
  [2052.9, 15.5], [2054.4, 13.8], [2055.9, 14.6], [2057.4, 12.1], [2059.2, 7.9], [2060.9, 15.5], [2062.7, 9.6], [2064.5, 11.3], [2066.3, 7.1], [2068, 9.6],
  [2069.8, 7.1], [2071.6, 7.9], [2073.4, 4.5], [2075.8, 7.9], [2077.6, 5.4], [2079.3, 7.9], [2081.1, 5.4], [2082.9, 7.1], [2084.7, 5.4], [2086.5, 6.2],
  [2088.3, 5.4], [2090, 6.2], [2091.8, 6.2], [2093.6, 8.8], [2095.4, 4.5], [2097.2, 6.2], [2099, 5.4], [2100.1, 26.4], [2101.3, 7.1], [2103.1, 5.4],
  [2104.9, 7.1], [2106.7, 4.5], [2108.5, 6.2], [2110.3, 5.4], [2112, 7.1], [2113.2, 8.8], [2115, 5.4], [2116.8, 4.5], [2118.6, 5.4], [2120.3, 4.5],
  [2122.1, 5.4], [2123.9, 4.5], [2125.7, 4.5], [2127.5, 3.7], [2129.3, 9.6], [2130.8, 8.8], [2132.3, 12.1], [2133.7, 14.6], [2135.2, 16.3], [2136.7, 10.4],
  [2138.2, 12.1], [2139.7, 34.8], [2141.2, 26.4], [2142.7, 23.9], [2144.1, 20.5], [2145.6, 12.1], [2147.1, 7.9], [2148.3, 15.5], [2149.5, 169.5], [2150.7, 74],
  [2151.9, 118], [2153, 215], [2154.2, 118], [2155.4, 165], [2156.6, 7.1], [2157.8, 15.5], [2159, 6.2], [2160.2, 12.1], [2161.4, 135], [2162.6, 114],
  [2163.8, 163.6], [2165, 91], [2166.4, 114.8], [2167.3, 113], [2168.2, 7.1], [2169.7, 20.5], [2170.9, 8.8], [2172.3, 10.4], [2173.8, 7.1], [2175.6, 3.7],
  [2177.4, 8.8], [2179.2, 13.8], [2180.7, 29], [2181.9, 15.5], [2183.4, 13.8], [2184.8, 12.1], [2186.3, 5.4], [2187.8, 3.7], [2189.3, 8.8], [2190.8, 3.7],
  [2192.3, 7.1], [2193.8, 3.7], [2195.2, 5.4], [2196.7, 10.4], [2197.9, 19.7], [2199.1, 7.1], [2200, 8],
];

const darpaDos: P[] = [
  [500, 0], [568.3, 0], [569.3, 51.2], [570.3, 0], [598, 0], [598.6, 0.7], [599.5, 0], [665, 0], [666, 0.6], [684, 0.6],
  [684.7, 0], [685.3, 23.1], [686, 0], [695, 0], [695.6, 12.5], [696.3, 0], [700.8, 0], [701.4, 230], [702.6, 230], [703.3, 0.6],
  [773, 0.6], [773.6, 0], [775.8, 38.2], [776.6, 0.6], [793.5, 1.2], [794.9, 8.8], [796.9, 9.1], [799.1, 5.4], [800.6, 0.3], [843.4, 0],
  [844.1, 23.1], [844.8, 0], [862.2, 0], [862.9, 10.4], [863.6, 0], [909.2, 0], [909.9, 45], [910.6, 0], [953, 0], [953.6, 25.9],
  [954.5, 0], [973, 0], [973.5, 15.5], [974.3, 0], [1072, 0.5], [1073.6, 1.7], [1143.3, 1.7], [1145.3, 0.2], [1204.5, 0], [1205.1, 25.6],
  [1205.9, 0], [1295, 0], [1295.5, 10], [1296.2, 0], [1307.3, 0], [1307.8, 20.9], [1308.5, 0], [1323.5, 0], [1324, 13.8], [1324.8, 0],
  [1338, 0], [1338.6, 29.8], [1339.4, 0], [1355.8, 0], [1357.1, 5.7], [1361.4, 5.7], [1362.8, 0], [1415.2, 0], [1416.6, 14.6], [1418.3, 0],
  [1422, 0], [1422.6, 45], [1423.3, 0], [1493.1, 0], [1493.7, 10.4], [1494.3, 0], [1560.5, 0], [1562, 9.9], [1569.1, 9.9], [1570.8, 0],
  [1584.4, 0], [1585, 45], [1585.7, 0], [1592.7, 0], [1593.3, 22.2], [1594, 0], [1596.8, 0], [1598.5, 160], [1599, 167.3], [1600.9, 162],
  [1602.7, 0], [1606, 0], [1608.3, 30.6], [1610.3, 12], [1611.8, 0], [1668.8, 0], [1670, 230], [1671.8, 230], [1673.3, 60], [1674.5, 0],
  [1801, 0], [1801.8, 7.9], [1804.8, 7.9], [1806.8, 0], [1830.6, 0.7], [1862.4, 0.7], [1864.5, 0.2], [1868.4, 0.7], [1896.2, 0.7], [1896.9, 23.1],
  [1898.1, 0.7], [1962.9, 0.7], [1964.4, 0], [1999.3, 0], [2000, 25.6], [2001.5, 0], [2010.4, 0], [2013.4, 158.6], [2015.2, 164.5], [2017, 162],
  [2019.3, 0], [2033.5, 0], [2034.2, 5.4], [2035.2, 0], [2130, 0], [2130.8, 27.3], [2131.7, 6.2], [2137, 6.2], [2138.8, 0], [2141.2, 45],
  [2142.5, 15], [2144.1, 13.8], [2147.1, 10.4], [2148.6, 9.6], [2150.1, 230], [2152.3, 230], [2156, 0], [2160.2, 0], [2161.4, 150], [2162.6, 200],
  [2163.8, 230], [2165.6, 155], [2167.3, 168.7], [2168.5, 10.4], [2170.9, 23.9], [2172.7, 20.5], [2173.8, 10.4], [2176.8, 10.4], [2178.3, 54.2], [2179.8, 50.8],
  [2181.3, 0], [2184, 0], [2184.8, 29], [2186.3, 0], [2193, 0], [2193.8, 9.6], [2195.2, 0], [2199.1, 2.9], [2200, 3],
];

const legendLabels = ['Anomaly score', 'DoS attack traffic'];
const captionText = 'Fig 3: Anomaly Scores in a) Smart Home IoT Traffic and b) DARPA 1999 dataset';

type Row = { t: number; a?: number; d?: number };
function mergeSeries(a: P[], d: P[]): Row[] {
  const rows: Row[] = [
    ...a.map(([t, v]) => ({ t, a: v })),
    ...d.map(([t, v]) => ({ t, d: v })),
  ];
  rows.sort((p, q) => p.t - q.t);
  return rows;
}

const iotData = mergeSeries(iotAnomaly, iotDos);
const darpaData = mergeSeries(darpaAnomaly, darpaDos);

const TXT = '#262626';
const FONT = '"Liberation Sans", Arial, Helvetica, sans-serif';
const tickStyle = { fill: TXT, fontSize: 36, fontFamily: FONT };

function Panel(props: {
  data: Row[];
  width: number;
  height: number;
  margin: { top: number; right: number; bottom: number; left: number };
  xDomain: [number, number];
  xTicks: number[];
  yDomain: [number, number];
  yTicks: number[];
  redWidth: number;
}) {
  const { data, width, height, margin, xDomain, xTicks, yDomain, yTicks, redWidth } = props;
  return (
    <LineChart width={width} height={height} data={data} margin={margin}>
      <CartesianGrid
        fill="#EAEAF2"
        fillOpacity={1}
        stroke="#FFFFFF"
        strokeWidth={2.6}
        horizontalValues={yTicks}
        verticalValues={xTicks}
      />
      <XAxis
        dataKey="t"
        type="number"
        domain={xDomain}
        ticks={xTicks}
        interval={0}
        allowDataOverflow
        axisLine={false}
        tickLine={false}
        tickSize={0}
        tickMargin={13}
        height={50}
        tick={tickStyle}
      />
      <YAxis
        type="number"
        domain={yDomain}
        ticks={yTicks}
        interval={0}
        allowDataOverflow
        axisLine={false}
        tickLine={false}
        tickSize={0}
        tickMargin={14}
        width={100}
        tick={tickStyle}
      />
      <Line
        type="linear"
        dataKey="a"
        stroke="#FF0000"
        strokeWidth={redWidth}
        strokeLinejoin="round"
        dot={false}
        activeDot={false}
        connectNulls
        isAnimationActive={false}
      />
      <Line
        type="linear"
        dataKey="d"
        stroke="#0000FF"
        strokeWidth={1.6}
        strokeLinejoin="round"
        dot={false}
        activeDot={false}
        connectNulls
        isAnimationActive={false}
      />
    </LineChart>
  );
}

function LegendBlock(props: { x: number; y1: number; y2: number; textX: number; b1: number; b2: number }) {
  const { x, y1, y2, textX, b1, b2 } = props;
  return (
    <g>
      <line x1={x} x2={x + 74} y1={y1} y2={y1} stroke="#FF0000" strokeWidth={4} />
      <line x1={x} x2={x + 74} y1={y2} y2={y2} stroke="#0000FF" strokeWidth={1.6} />
      <text x={textX} y={b1} fontFamily={FONT} fontSize={36} fill={TXT}>{legendLabels[0]}</text>
      <text x={textX} y={b2} fontFamily={FONT} fontSize={36} fill={TXT}>{legendLabels[1]}</text>
    </g>
  );
}

export default function App() {
  return (
    <div style={{ position: 'absolute', left: 0, top: 0, width: 2195, height: 1227, overflow: 'hidden', background: '#FFFFFF' }}>
      <div style={{ position: 'absolute', left: 0, top: 0 }}>
        <Panel
          data={iotData}
          width={2195}
          height={600}
          margin={{ top: 80, right: 34, bottom: 62, left: 19 }}
          xDomain={[200, 1000]}
          xTicks={iotTicksX}
          yDomain={[0, 90]}
          yTicks={iotTicksY}
          redWidth={3.8}
        />
      </div>
      <div style={{ position: 'absolute', left: 0, top: 620 }}>
        <Panel
          data={darpaData}
          width={2195}
          height={607}
          margin={{ top: 118, right: 28, bottom: 43, left: 75 }}
          xDomain={[500, 2200]}
          xTicks={darpaTicksX}
          yDomain={[0, 200]}
          yTicks={darpaTicksY}
          redWidth={3.4}
        />
      </div>
      <svg
        width={2195}
        height={1227}
        style={{ position: 'absolute', left: 0, top: 0, pointerEvents: 'none', overflow: 'hidden' }}
      >
        <text x={1140} y={59} textAnchor="middle" fontFamily={FONT} fontWeight="bold" fontSize={29} fill={TXT}>
          Smart Home IoT dataset
        </text>
        <text x={1171} y={717} textAnchor="middle" fontFamily={FONT} fontWeight="bold" fontSize={29} fill={TXT}>
          DARPA dataset
        </text>
        <text
          x={38}
          y={284}
          transform="rotate(-90 38 284)"
          textAnchor="middle"
          dominantBaseline="central"
          fontFamily='"DejaVu Sans", sans-serif'
          fontWeight="bold"
          fontSize={18.5}
          fill={TXT}
        >
          Anomaly Score
        </text>
        <text
          x={77}
          y={936}
          transform="rotate(-90 77 936)"
          textAnchor="middle"
          dominantBaseline="central"
          fontFamily='"DejaVu Sans", sans-serif'
          fontWeight="bold"
          fontSize={18.5}
          fill={TXT}
        >
          Anomaly Score
        </text>
        <text x={144} y={564} fontFamily='"Open Sans", sans-serif' fontWeight="bold" fontSize={30} fill="#000">time</text>
        <text x={172} y={1217} fontFamily='"Open Sans", sans-serif' fontWeight="bold" fontSize={30} fill="#000">time</text>
        <LegendBlock x={151} y1={127} y2={180} textX={254} b1={140} b2={192} />
        <LegendBlock x={983} y1={783} y2={834} textX={1086} b1={796} b2={847} />
        <text
          x={372}
          y={1245}
          fontFamily='"Open Sans", sans-serif'
          fontSize={36}
          fill="#000"
          textLength={1475}
          lengthAdjust="spacing"
        >
          {captionText}
        </text>
      </svg>
    </div>
  );
}
